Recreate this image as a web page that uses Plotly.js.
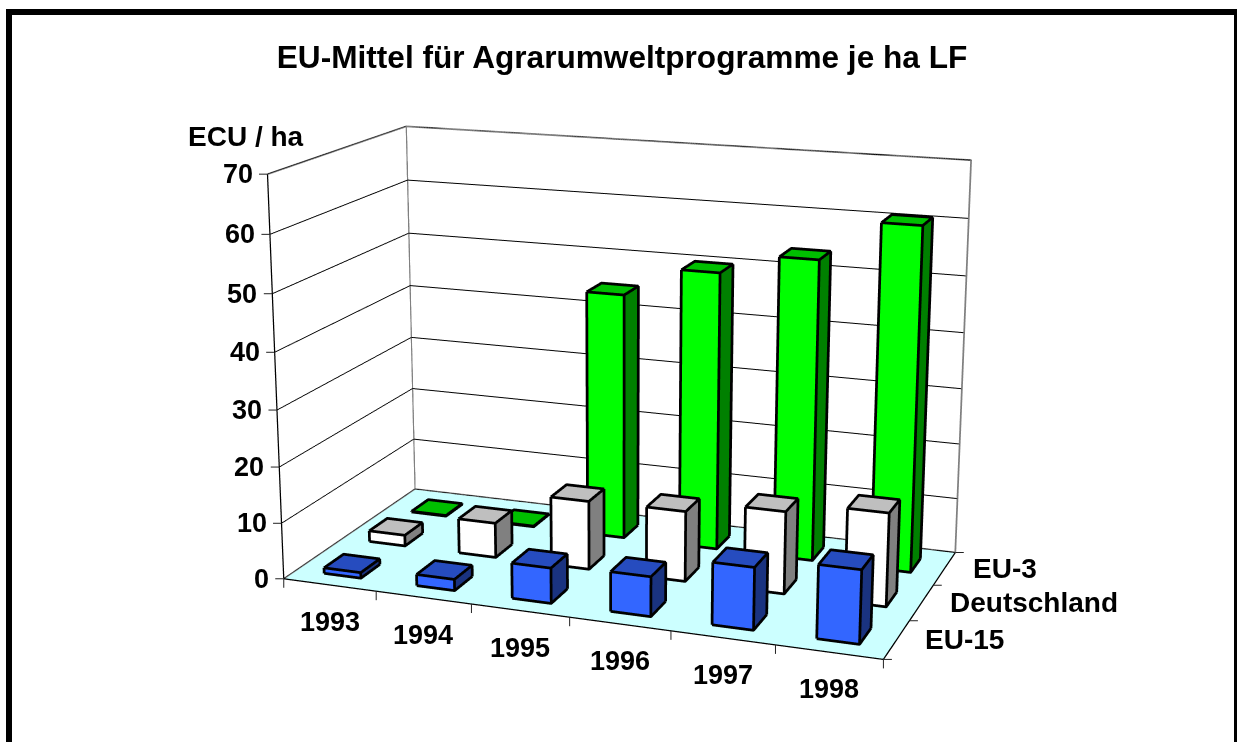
<!DOCTYPE html>
<html><head><meta charset="utf-8">
<script src="https://cdn.plot.ly/plotly-3.0.1.min.js"></script>
<style>
html,body{margin:0;padding:0;background:#fff;overflow:hidden;width:1237px;height:742px}
#clip{position:absolute;left:0;top:0;width:1237px;height:742px;overflow:hidden}
#chart{position:absolute;left:-970px;top:-582px;width:3177px;height:1906px}
#frame{position:absolute;left:6px;top:9px;width:1222px;height:733px;border:solid #000;border-width:6px 3px 0 6px;pointer-events:none;z-index:10}
</style></head><body>
<div id="clip"><div id="chart"></div></div><div id="frame"></div>
<script>
const titleText = "EU-Mittel für Agrarumweltprogramme je ha LF";
const unitText = "ECU / ha";
const years = ["1993","1994","1995","1996","1997","1998"];
const seriesNames = ["EU-15","Deutschland","EU-3"];
const eu15 = [1, 2, 6.2, 6.9, 10.7, 12.5];
const deutschland = [2, 6.3, 12.3, 12.5, 14.5, 16.3];
const eu3 = [0, 0, 44.7, 50, 53.6, 60.7];
const zTicks = [0,10,20,30,40,50,60,70];
const seriesValues = [eu15, deutschland, eu3];
const palette = [
  {front:"#3366ff", top:"#264cbf", side:"#1a3380"},
  {front:"#ffffff", top:"#bfbfbf", side:"#808080"},
  {front:"#00ff00", top:"#00bf00", side:"#008000"}
];
const BAR_X0=0.30, BAR_W=0.40, BAR_Y0=0.29, BAR_D=0.42, MIN_H=0.12;
const TEXT_FONT={family:"Liberation Sans, Arial, sans-serif",size:27,color:"#000",weight:700};
const nx=years.length, ny=seriesNames.length, zMax=70;
const ASPECT={x:1.004,y:0.505,z:0.67};
const EYE={x:1.2347,y:-3.392,z:0.9716};
const CENTER={x:-0.0099,y:-0.0041,z:-0.0001};
// edges are slid along the view ray towards the eye so the faces cannot cover them; their screen position stays the same
const BIAS=0.0028;
const bx=(EYE.x-CENTER.x)*BIAS*nx/ASPECT.x, by=(EYE.y-CENTER.y)*BIAS*ny/ASPECT.y, bz=(EYE.z-CENTER.z)*BIAS*zMax/ASPECT.z;

function barMesh(s){
  const xs=[],ys=[],zs=[],I=[],J=[],K=[],fc=[],ex=[],ey=[],ez=[];
  seriesValues[s].forEach((v,c)=>{
    const x0=c+BAR_X0,x1=x0+BAR_W,y0=s+BAR_Y0,y1=y0+BAR_D,z0=0.0,z1=Math.max(v,MIN_H);
    const b=xs.length;
    [[x0,y0,z0],[x1,y0,z0],[x1,y1,z0],[x0,y1,z0],[x0,y0,z1],[x1,y0,z1],[x1,y1,z1],[x0,y1,z1]].forEach(p=>{xs.push(p[0]);ys.push(p[1]);zs.push(p[2]);});
    const quad=(a,bb,cc,d,col)=>{I.push(b+a,b+a);J.push(b+bb,b+cc);K.push(b+cc,b+d);fc.push(col,col);};
    const P=palette[s];
    quad(0,1,5,4,P.front); quad(1,2,6,5,P.side); quad(4,5,6,7,P.top);
    quad(3,2,6,7,P.front); quad(0,3,7,4,P.side);
    const line=(pts)=>{pts.forEach(i=>{ex.push(xs[b+i]+bx);ey.push(ys[b+i]+by);ez.push(zs[b+i]+bz);});ex.push(null);ey.push(null);ez.push(null);};
    line([0,1,2]); line([4,5,6,7,4]); line([0,4]); line([1,5]); line([2,6]);
  });
  return [{type:"mesh3d",x:xs,y:ys,z:zs,i:I,j:J,k:K,facecolor:fc,flatshading:true,hoverinfo:"skip",
    lighting:{ambient:1,diffuse:0,specular:0,roughness:1,fresnel:0},showscale:false,name:seriesNames[s]},
    {type:"scatter3d",mode:"lines",x:ex,y:ey,z:ez,line:{color:"#000",width:5.5},hoverinfo:"skip",showlegend:false}];
}
const traces=[];
const wallEdges={x:[0,0,nx,nx,null,0,0],y:[0,ny,ny,ny,null,ny,ny],z:[zMax,zMax,zMax,0,null,0,zMax]};
const floorEdges={x:[0,0,nx],y:[0,ny,ny],z:[0,0,0]};
const frontEdges={x:[0,0,null,0,nx,nx],y:[0,0,null,0,0,ny],z:[zMax,0,null,0,0,0]};
traces.push({type:"scatter3d",mode:"lines",x:wallEdges.x,y:wallEdges.y,z:wallEdges.z,line:{color:"#808080",width:3.5},hoverinfo:"skip",showlegend:false});
traces.push({type:"scatter3d",mode:"lines",x:floorEdges.x,y:floorEdges.y,z:floorEdges.z,line:{color:"#808080",width:3.5},hoverinfo:"skip",showlegend:false});
traces.push({type:"scatter3d",mode:"lines",x:frontEdges.x,y:frontEdges.y,z:frontEdges.z,line:{color:"#000",width:2.5},hoverinfo:"skip",showlegend:false});
[2,1,0].forEach(s=>barMesh(s).forEach(t=>traces.push(t)));

const SERIES_FONT=Object.assign({},TEXT_FONT,{size:28});
const tick=(x,y,z,ax,ay)=>({x:x,y:y,z:z,text:" ",font:{size:1},borderpad:0,showarrow:true,arrowhead:0,arrowwidth:1,arrowcolor:"#222",standoff:0,ax:ax,ay:ay});
const ann=[];
years.forEach((t,i)=>ann.push({x:i+0.5,y:0,z:0,text:t,showarrow:false,font:TEXT_FONT,yshift:-37}));
seriesNames.forEach((t,i)=>ann.push({x:nx,y:i+0.5,z:0,text:t,showarrow:false,font:SERIES_FONT,xanchor:"left",xshift:26}));
zTicks.forEach(v=>{ann.push({x:0,y:0,z:v,text:String(v),showarrow:false,font:TEXT_FONT,xanchor:"right",xshift:-13});ann.push(tick(0,0,v,-9,0));});
for(let i=0;i<=nx;i++) ann.push(tick(i,0,0,0,10));
for(let i=0;i<=ny;i++) ann.push(tick(nx,i,0,9,0));
ann.push({x:0,y:0,z:zMax,text:unitText,showarrow:false,font:SERIES_FONT,xshift:-22,yshift:38});

function axis(range,tickvals,bg,grid){
  return {range:range,tickvals:tickvals,showticklabels:false,title:{text:""},
    showgrid:grid,gridcolor:"#000",gridwidth:2,zeroline:false,showspikes:false,
    showbackground:true,backgroundcolor:bg,showline:false,ticks:""};
}
const layout={
  width:3177,height:1906,margin:{l:0,r:0,t:0,b:0,pad:0},paper_bgcolor:"#fff",showlegend:false,
  title:{text:titleText,xref:"paper",yref:"paper",x:(622+970)/3177,xanchor:"center",y:1-(57+582)/1906,yanchor:"middle",font:Object.assign({},TEXT_FONT,{size:31.6})},
  scene:{domain:{x:[0,1],y:[0,1]},aspectmode:"manual",aspectratio:ASPECT,
    camera:{eye:EYE,center:CENTER,up:{x:0,y:0,z:1},projection:{type:"perspective"}},
    xaxis:axis([0,nx],[0,1,2,3,4,5,6],"#ffffff",false),
    yaxis:axis([0,ny],[0,1,2,3],"#ffffff",false),
    zaxis:axis([0,zMax],zTicks,"#ccffff",true),
    annotations:ann,hovermode:false,dragmode:false}
};
Plotly.newPlot("chart",traces,layout,{displayModeBar:false,responsive:false});
</script></body></html>
